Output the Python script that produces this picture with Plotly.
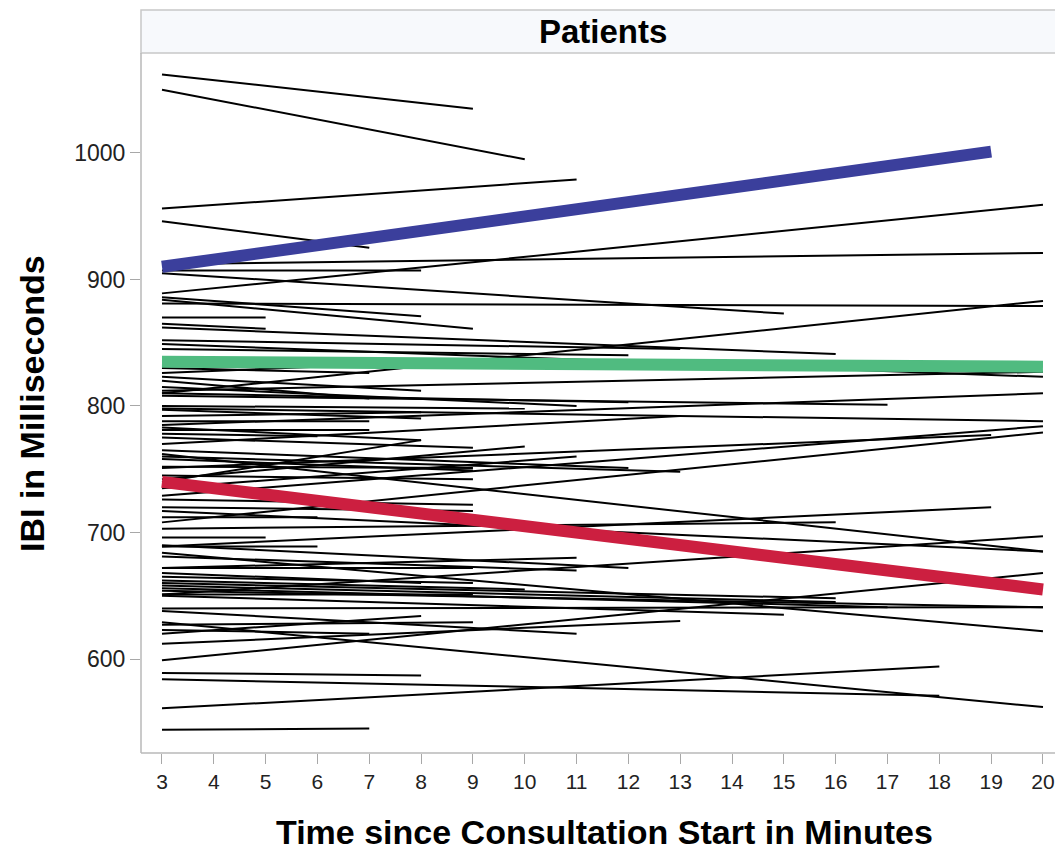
import plotly.graph_objects as go

# ---- data: individual patient trajectories (start at minute 3) ----
start_x = 3
start_y = [1062, 1050, 956, 946, 907, 889, 912, 905, 881, 810, 886, 884, 870, 865,
           862, 852, 849, 845, 812, 823, 820, 815, 810, 808, 800, 797, 788, 781,
           783, 785, 798, 770, 775, 762, 751, 729, 708, 760, 765, 752, 758, 745,
           740, 735, 726, 720, 712, 703, 696, 689, 681, 672, 689, 717, 684, 651,
           672, 665, 662, 660, 658, 656, 654, 650, 651, 640, 638, 627, 620, 623,
           612, 599, 629, 589, 584, 561, 544, 668, 690, 778, 792, 830, 826, 742]
end_x = [9, 10, 11, 7, 8, 20, 20, 15, 20, 20, 8, 9, 5, 5,
         16, 13, 20, 12, 20, 8, 7, 11, 12, 17, 10, 8, 7, 7,
         8, 20, 20, 13, 9, 20, 19, 20, 20, 13, 12, 9, 9, 9,
         8, 11, 9, 9, 6, 16, 5, 6, 11, 11, 19, 20, 20, 20,
         9, 9, 10, 16, 16, 17, 20, 15, 9, 20, 11, 9, 8, 7,
         13, 20, 20, 8, 18, 18, 7, 8, 12, 6, 8, 7, 9, 10]
end_y = [1035, 995, 979, 925, 907, 959, 921, 873, 879, 883, 871, 861, 870, 861,
         841, 845, 823, 840, 827, 812, 806, 800, 803, 801, 798, 790, 788, 781,
         773, 810, 788, 792, 767, 685, 777, 784, 779, 748, 751, 751, 749, 742,
         773, 760, 722, 717, 712, 708, 696, 689, 670, 680, 720, 685, 622, 697,
         672, 660, 655, 648, 645, 641, 641, 635, 651, 641, 620, 629, 634, 620,
         630, 668, 562, 587, 571, 594, 545, 660, 672, 776, 795, 826, 836, 768]

# ---- data: group trend lines ----
trend_names = ["High", "Middle", "Low"]
trend_x0 = [3, 3, 3]
trend_x1 = [19, 20, 20]
trend_y0 = [910, 835, 740]
trend_y1 = [1001, 831, 655]
trend_colors = ["#3b3f9c", "#50bb80", "#cc1f40"]

x_ticks = list(range(3, 21))
y_ticks = [600, 700, 800, 900, 1000]

# ---- build figure ----
fig = go.Figure()

xs, ys = [], []
for sy, ex, ey in zip(start_y, end_x, end_y):
    xs += [start_x, ex, None]
    ys += [sy, ey, None]
fig.add_trace(go.Scatter(x=xs, y=ys, mode="lines",
                         line=dict(color="black", width=2),
                         hoverinfo="skip", showlegend=False))

for name, x0, x1, y0, y1, c in zip(trend_names, trend_x0, trend_x1,
                                   trend_y0, trend_y1, trend_colors):
    fig.add_trace(go.Scatter(x=[x0, x1], y=[y0, y1], mode="lines", name=name,
                             line=dict(color=c, width=12), showlegend=False))

W, H = 1055, 850
ml, mt, mb, mr = 141, 53, 97, 0
plot_h = H - mt - mb

AX_FONT = "Liberation Sans, Arial, sans-serif"

fig.update_layout(
    width=W, height=H,
    margin=dict(l=ml, r=mr, t=mt, b=mb, pad=0),
    paper_bgcolor="white", plot_bgcolor="white",
    font=dict(family=AX_FONT, color="#222222"),
    xaxis=dict(range=[2.595, 20.232], tickmode="array", tickvals=x_ticks,
               ticktext=[str(t) for t in x_ticks],
               ticks="outside", ticklen=10, tickcolor="#a8a8a8", tickwidth=1,
               showline=False, showgrid=False, zeroline=False,
               tickfont=dict(size=21, color="#222222")),
    yaxis=dict(range=[525.7, 1079], tickmode="array", tickvals=y_ticks,
               ticks="outside", ticklen=10, tickcolor="#a8a8a8", tickwidth=1,
               showline=False, showgrid=False, zeroline=False,
               tickfont=dict(size=23, color="#222222")),
)

# plot frame (left, bottom) in light gray
fig.add_shape(type="line", xref="paper", yref="paper", x0=0, x1=0, y0=0, y1=1,
              line=dict(color="#b8b8b8", width=1.5))
fig.add_shape(type="line", xref="paper", yref="paper", x0=0, x1=1.02, y0=0, y1=0,
              line=dict(color="#b8b8b8", width=1.5))

# header strip
hdr_top = 1 + 43 / plot_h
fig.add_shape(type="rect", xref="paper", yref="paper", x0=0, x1=1.02,
              y0=1, y1=hdr_top, fillcolor="#f7f9fc",
              line=dict(color="#c8c8c8", width=1.5), layer="below")
fig.add_annotation(text="<b>Patients</b>", xref="paper", yref="paper",
                   x=(603 - ml) / (W - ml - mr), y=(1 + hdr_top) / 2,
                   showarrow=False, xanchor="center", yanchor="middle",
                   font=dict(size=33, family=AX_FONT, color="black"))

# axis titles
fig.add_annotation(text="<b>Time since Consultation Start in Minutes</b>",
                   xref="paper", yref="paper",
                   x=(604 - ml) / (W - ml - mr), y=-(832 - (H - mb)) / plot_h,
                   showarrow=False, xanchor="center", yanchor="middle",
                   font=dict(size=34, family=AX_FONT, color="black"))
fig.add_annotation(text="<b>IBI in Milliseconds</b>",
                   xref="paper", yref="paper",
                   x=-(ml - 32) / (W - ml - mr), y=((H - mb) - 404) / plot_h,
                   showarrow=False, xanchor="center", yanchor="middle",
                   textangle=-90,
                   font=dict(size=34, family=AX_FONT, color="black"))

fig.write_html("out.html", config={"displayModeBar": False},
               post_script="document.body.style.margin='0';"
                           "document.body.style.overflow='hidden';")
